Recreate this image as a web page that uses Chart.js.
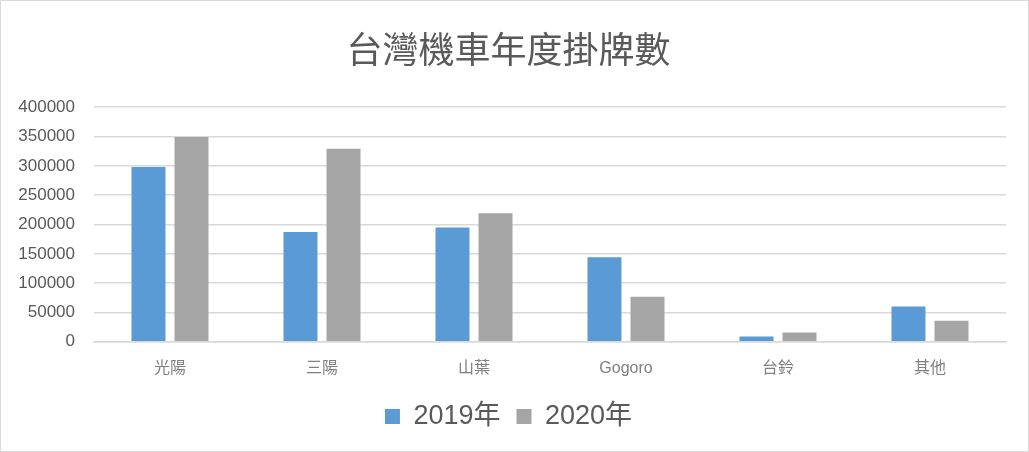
<!DOCTYPE html>
<html>
<head>
<meta charset="utf-8">
<script src="https://cdn.jsdelivr.net/npm/chart.js@4/dist/chart.umd.min.js"></script>
<style>
  html, body { margin: 0; padding: 0; background: #fff; }
  #wrap { width: 1027px; height: 450px; border: 1px solid #d9d9d9; }
</style>
</head>
<body>
<div id="wrap"><canvas id="chart" width="1027" height="450"></canvas></div>
<script>
const categories = ["光陽", "三陽", "山葉", "Gogoro", "台鈴", "其他"];
const values2019 = [298000, 187000, 195000, 144000, 9000, 60000];
const values2020 = [349000, 329000, 219000, 77000, 16000, 36000];
const seriesNames = ["2019年", "2020年"];

const fontFamily = "'Liberation Sans', 'Noto Sans CJK TC', sans-serif";
const textColor = "#595959";

const ctx = document.getElementById("chart").getContext("2d");
new Chart(ctx, {
  type: "bar",
  data: {
    labels: categories,
    datasets: [
      { label: seriesNames[0], data: values2019, backgroundColor: "#5b9bd5" },
      { label: seriesNames[1], data: values2020, backgroundColor: "#a5a5a5" }
    ]
  },
  options: {
    responsive: false,
    animation: false,
    datasets: { bar: { categoryPercentage: 0.566, barPercentage: 0.79 } },
    layout: { padding: { left: 10, right: 22, top: 0, bottom: 11 } },
    plugins: {
      title: {
        display: true,
        text: "台灣機車年度掛牌數",
        color: textColor,
        font: { family: fontFamily, size: 36, weight: "normal" },
        padding: { top: 30, bottom: 33 }
      },
      legend: {
        position: "bottom",
        labels: {
          color: textColor,
          font: { family: fontFamily, size: 27 },
          boxWidth: 15,
          boxHeight: 15,
          padding: 16
        }
      },
      tooltip: { enabled: false }
    },
    scales: {
      x: {
        grid: { display: false },
        border: { color: "#d9d9d9", width: 1.5 },
        ticks: { color: "#7f7f7f", font: { family: fontFamily, size: 16 }, padding: 9 }
      },
      y: {
        min: 0,
        max: 400000,
        ticks: {
          stepSize: 50000,
          color: textColor,
          font: { family: fontFamily, size: 17 },
          padding: 19,
          callback: (v) => String(v)
        },
        grid: { color: "#d9d9d9", lineWidth: 1.5, drawTicks: false },
        border: { display: false },
        afterFit: (scale) => { scale.width = 83; }
      }
    }
  }
});
</script>
</body>
</html>
